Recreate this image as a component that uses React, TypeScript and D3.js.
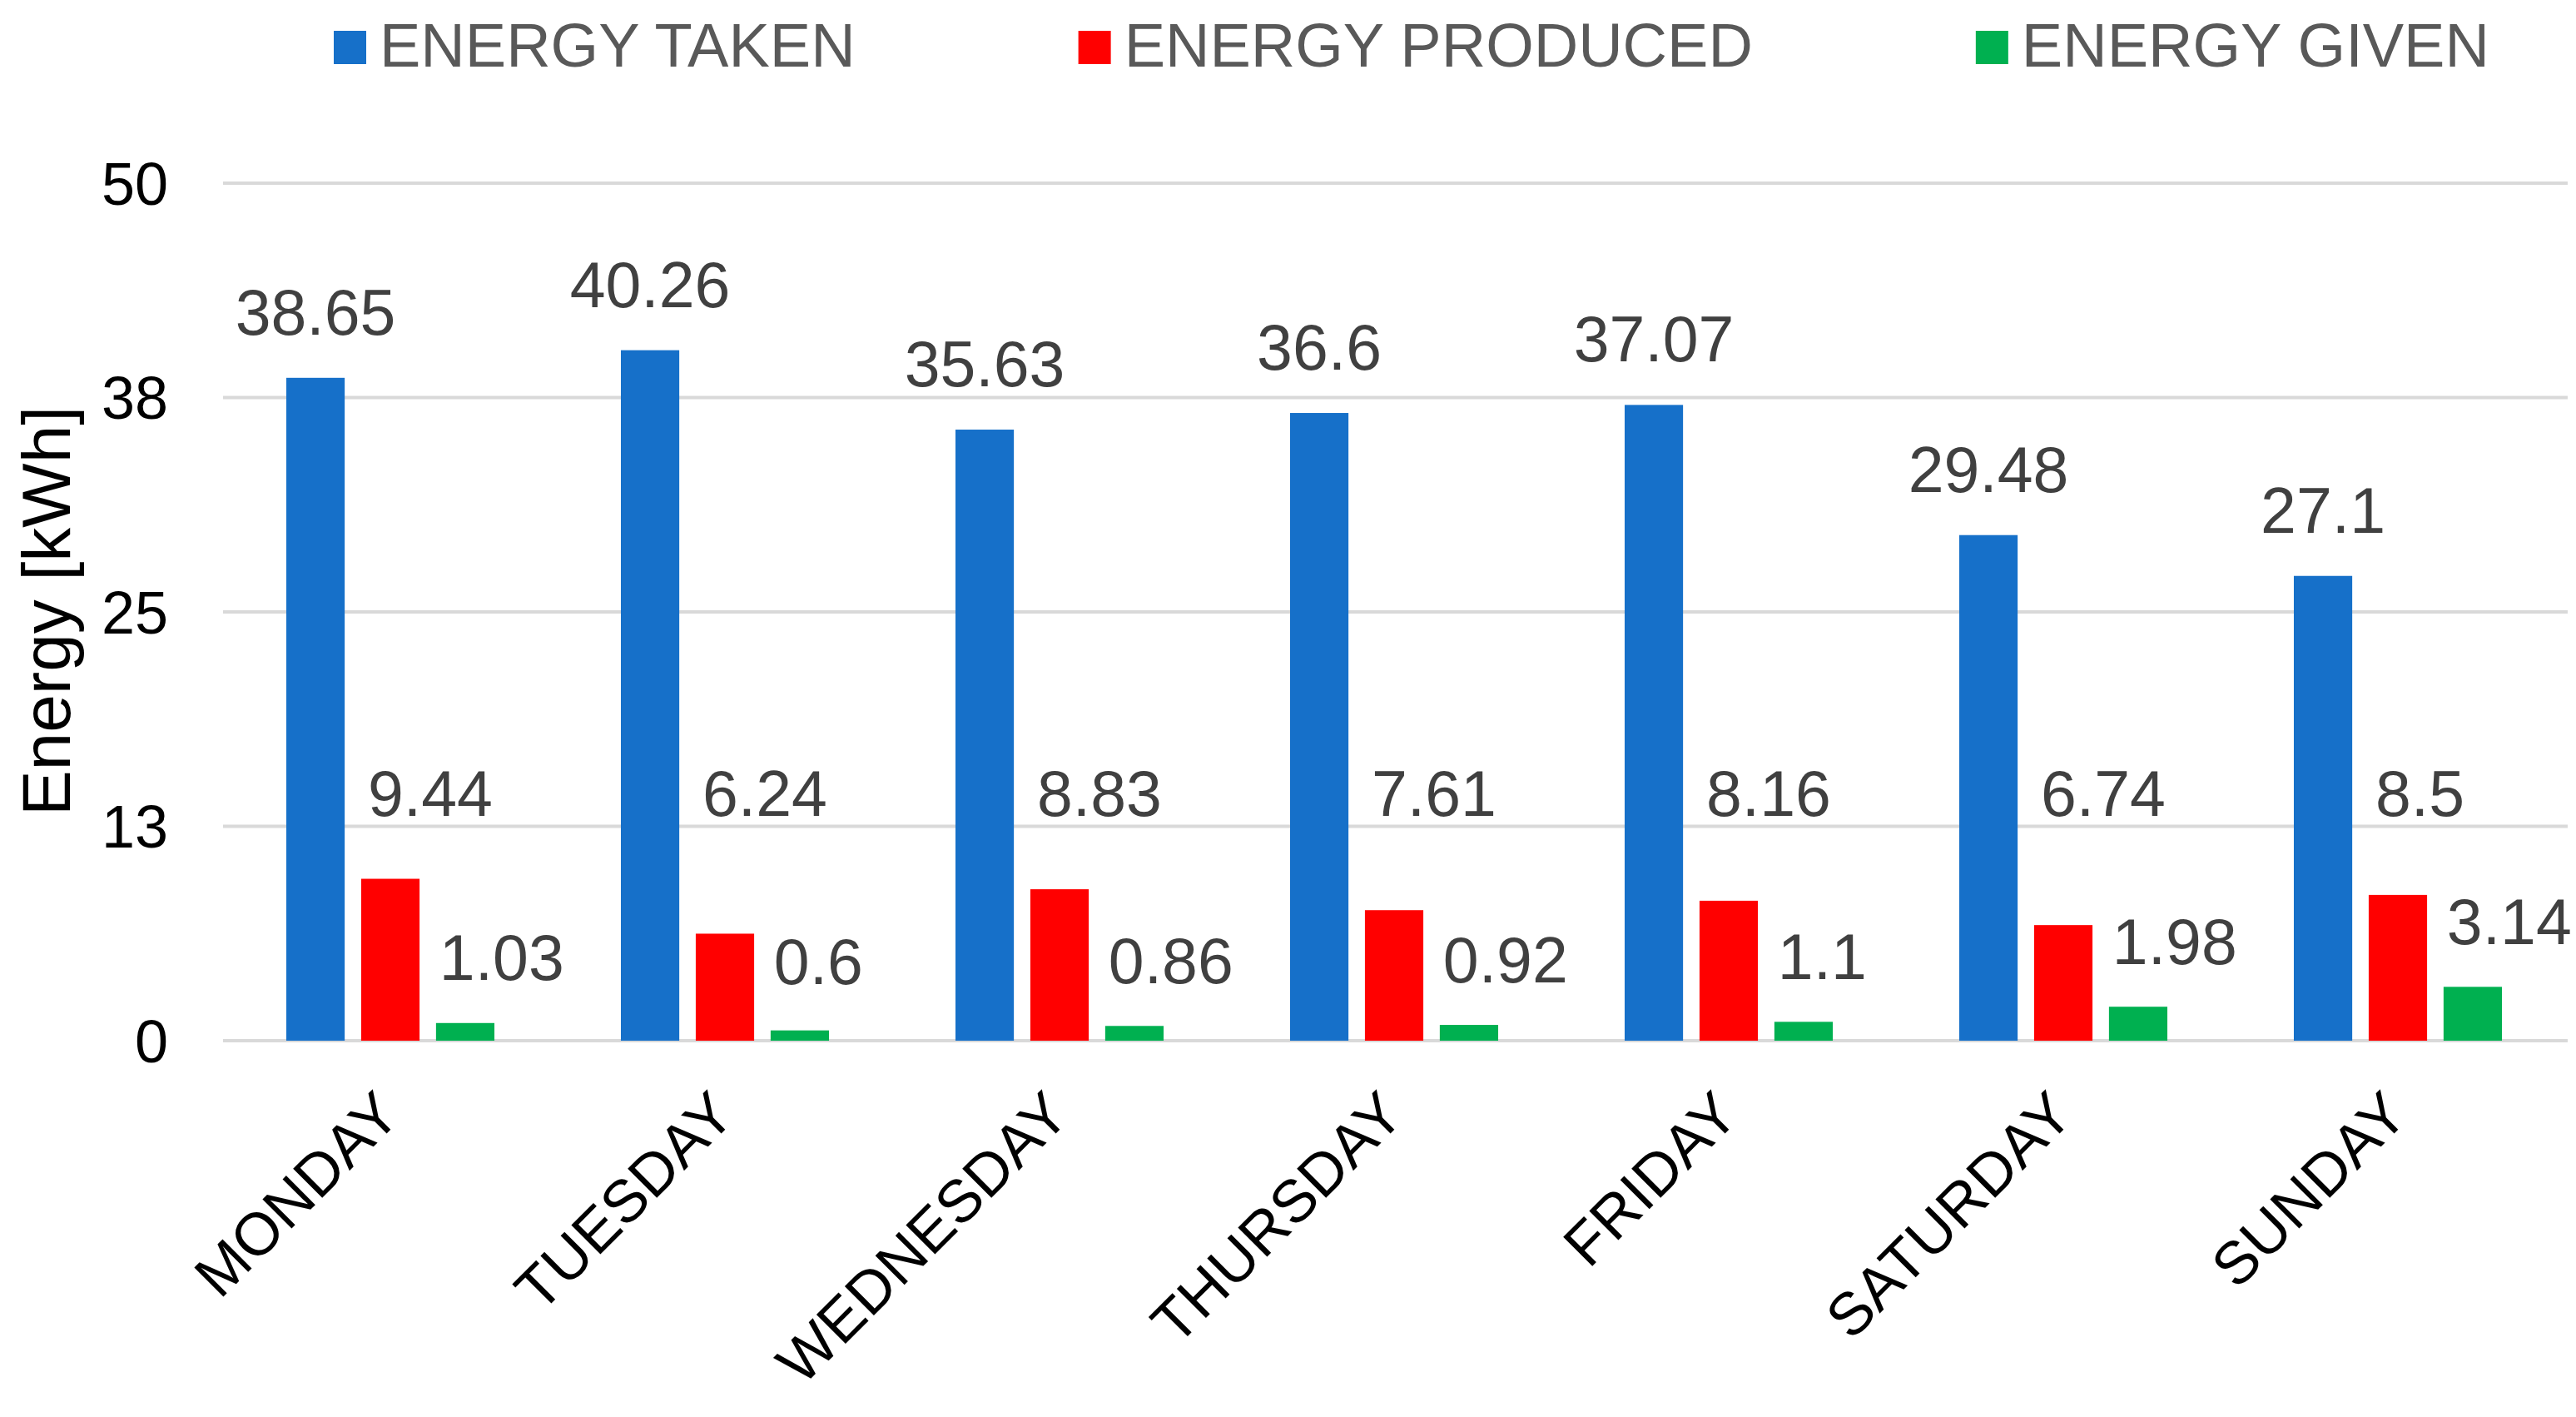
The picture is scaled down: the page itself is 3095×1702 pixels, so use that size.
import { useEffect, useRef } from 'react';
import * as d3 from 'd3';

// chart data
const days = ['MONDAY', 'TUESDAY', 'WEDNESDAY', 'THURSDAY', 'FRIDAY', 'SATURDAY', 'SUNDAY'];
const seriesNames = ['ENERGY TAKEN', 'ENERGY PRODUCED', 'ENERGY GIVEN'];
const energyTaken = [38.65, 40.26, 35.63, 36.6, 37.07, 29.48, 27.1];
const energyProduced = [9.44, 6.24, 8.83, 7.61, 8.16, 6.74, 8.5];
const energyGiven = [1.03, 0.6, 0.86, 0.92, 1.1, 1.98, 3.14];
const yTicks = [0, 12.5, 25, 37.5, 50];
const yTickLabels = ['0', '13', '25', '38', '50'];

const colors = ['#1670C9', '#FF0000', '#00B050'];

const App = () => {
  const svgRef = useRef<SVGSVGElement>(null);

  const width = 3095;
  const height = 1702;
  const font = "'Liberation Sans', Arial, sans-serif";

  useEffect(() => {
    if (!svgRef.current) return;
    const svg = d3.select(svgRef.current);
    svg.selectAll('*').remove();

    svg.append('rect').attr('width', width).attr('height', height).attr('fill', 'white');

    const values = [energyTaken, energyProduced, energyGiven];

    const x0 = d3.scaleBand<string>()
      .domain(days)
      .range([268, 3082])
      .paddingInner(0.378)
      .paddingOuter(0.189);

    const x1 = d3.scaleBand<string>()
      .domain(seriesNames)
      .range([0, x0.bandwidth()])
      .paddingInner(0.22);

    const y = d3.scaleLinear().domain([0, 50]).range([1250, 220]);

    // gridlines
    svg.append('g')
      .selectAll('line')
      .data(yTicks)
      .enter().append('line')
      .attr('x1', 268)
      .attr('x2', 3085)
      .attr('y1', d => y(d))
      .attr('y2', d => y(d))
      .attr('stroke', '#D9D9D9')
      .attr('stroke-width', 4);

    // y tick labels
    svg.append('g')
      .selectAll('text')
      .data(yTicks)
      .enter().append('text')
      .attr('x', 202)
      .attr('y', d => y(d))
      .attr('dy', '0.36em')
      .attr('text-anchor', 'end')
      .style('font-family', font)
      .style('font-size', '72px')
      .attr('fill', '#000')
      .text((d, i) => yTickLabels[i]);

    // y axis title
    svg.append('text')
      .attr('transform', 'translate(84, 734) rotate(-90)')
      .attr('text-anchor', 'middle')
      .style('font-family', font)
      .style('font-size', '82px')
      .attr('fill', '#000')
      .text('Energy [kWh]');

    // bars
    seriesNames.forEach((s, si) => {
      svg.append('g')
        .selectAll('rect')
        .data(values[si])
        .enter().append('rect')
        .attr('x', (d, i) => (x0(days[i]) || 0) + (x1(s) || 0))
        .attr('y', d => y(d))
        .attr('width', x1.bandwidth())
        .attr('height', d => y(0) - y(d))
        .attr('fill', colors[si]);
    });

    // data labels
    const labelStyle = (sel: any) => sel
      .style('font-family', font)
      .style('font-size', '77px')
      .attr('fill', '#404040');

    svg.append('g')
      .selectAll('text')
      .data(energyTaken)
      .enter().append('text')
      .attr('x', (d, i) => (x0(days[i]) || 0) + (x1(seriesNames[0]) || 0) + x1.bandwidth() / 2)
      .attr('y', d => y(d) - 52)
      .attr('text-anchor', 'middle')
      .call(labelStyle)
      .text(d => String(d));

    svg.append('g')
      .selectAll('text')
      .data(energyProduced)
      .enter().append('text')
      .attr('x', (d, i) => (x0(days[i]) || 0) + (x1(seriesNames[1]) || 0) + 8)
      .attr('y', () => y(13.1))
      .attr('text-anchor', 'start')
      .call(labelStyle)
      .text(d => String(d));

    svg.append('g')
      .selectAll('text')
      .data(energyGiven)
      .enter().append('text')
      .attr('x', (d, i) => (x0(days[i]) || 0) + (x1(seriesNames[2]) || 0) + 4)
      .attr('y', d => y(Math.max(d + 2.5, 3.3)))
      .attr('text-anchor', 'start')
      .call(labelStyle)
      .text(d => String(d));

    // x axis labels
    svg.append('g')
      .selectAll('text')
      .data(days)
      .enter().append('text')
      .attr('transform', d => `translate(${(x0(d) || 0) + x0.bandwidth() / 2 + 15}, 1342) rotate(-45)`)
      .attr('text-anchor', 'end')
      .style('font-family', font)
      .style('font-size', '72px')
      .attr('fill', '#000')
      .text(d => d);

    // legend
    const legend = svg.append('g');
    let lx = 401;
    seriesNames.forEach((s, si) => {
      legend.append('rect')
        .attr('x', lx)
        .attr('y', 37)
        .attr('width', 39)
        .attr('height', 40)
        .attr('fill', colors[si]);
      const t = legend.append('text')
        .attr('x', lx + 55)
        .attr('y', 80)
        .style('font-family', font)
        .style('font-size', '74px')
        .attr('fill', '#595959')
        .text(s);
      const w = (t.node() as SVGTextElement).getComputedTextLength();
      lx = lx + 55 + w + 268;
    });
  }, []);

  return (
    <svg
      ref={svgRef}
      width={width}
      height={height}
      style={{ position: 'absolute', left: 0, top: 0, display: 'block' }}
    ></svg>
  );
};

export default App;
